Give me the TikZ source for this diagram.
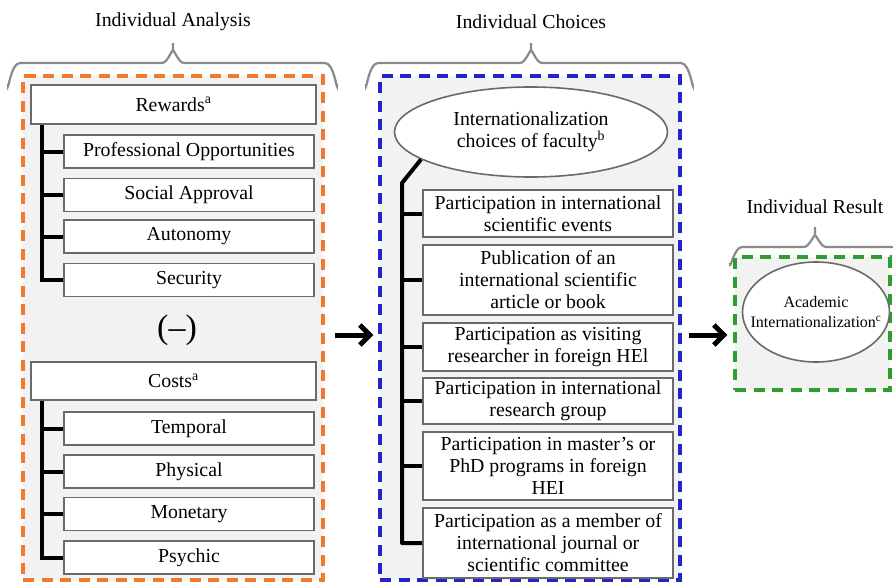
\documentclass[tikz,border=0pt]{standalone}
\usepackage{fontspec}
\setmainfont{Liberation Serif}
\usetikzlibrary{arrows.meta,shapes.geometric}
\definecolor{panelbg}{HTML}{F2F2F2}
\definecolor{boxline}{HTML}{6A6A6A}
\definecolor{braceline}{HTML}{8A8A8A}
\definecolor{orangeD}{HTML}{F07A2A}
\definecolor{blueD}{HTML}{2424C8}
\definecolor{greenD}{HTML}{2E9E2E}
\tikzset{
  panel/.style={draw=#1, fill=panelbg, line width=3.2pt, dash pattern=on 11pt off 7.5pt, inner sep=0pt},
  rbox/.style={draw=boxline, fill=white, line width=1.6pt, inner sep=0pt, align=center,
    font=\fontsize{19.8}{22}\selectfont},
  oval/.style={ellipse, draw=boxline, fill=white, line width=1.6pt, inner sep=0pt},
  lbl/.style={inner sep=0pt, align=center},
  trunk/.style={line width=4pt, black},
  brc/.style={draw=braceline, line width=2.2pt},
  ttl/.style={font=\fontsize{19.8}{22}\selectfont, inner sep=0pt},
  arr/.style={line width=5pt, -{Straight Barb[length=10pt,width=20pt,line width=5pt]}},
}
\begin{document}
\begin{tikzpicture}[x=1pt,y=-1pt]
\useasboundingbox (0,0) rectangle (893,581);
\fill[white] (0,0) rectangle (893,581);

% titles
\node[ttl] (tA) at (173,22) {Individual Analysis};
\node[ttl] (tC) at (531,22) {Individual Choices};
\node[ttl] (tR) at (815,207) {Individual Result};

% braces
\draw[brc] (8,84) to[out=-90,in=180] (20,63) -- (162,63) to[out=0,in=90] (173,52) -- (173,43)
           (173,52) to[out=90,in=180] (184,63) -- (325,63) to[out=0,in=-90] (337,84);
\draw[brc] (366,84) to[out=-90,in=180] (378,63) -- (520,63) to[out=0,in=90] (531,52) -- (531,43)
           (531,52) to[out=90,in=180] (542,63) -- (681,63) to[out=0,in=-90] (693,84);
\draw[brc] (730,263) to[out=-90,in=180] (742,247) -- (804,247) to[out=0,in=90] (815,237) -- (815,227)
           (815,237) to[out=90,in=180] (826,247) -- (900,247);

% panels
\node[panel=orangeD, minimum width=300pt, minimum height=504pt] (lp) at (173,328) {};
\node[panel=blueD, minimum width=300pt, minimum height=504pt] (mp) at (530,328) {};
\node[panel=greenD, minimum width=155pt, minimum height=133pt] (rp) at (812.5,323.5) {};

% left panel boxes
\node[rbox, minimum width=285pt, minimum height=39pt] (rew) at (173.5,104.5) {Rewards\textsuperscript{a}};
\node[rbox, minimum width=250pt, minimum height=33pt] (po) at (189,151.5) {Professional Opportunities};
\node[rbox, minimum width=250pt, minimum height=33pt] (sa) at (189,195) {Social Approval};
\node[rbox, minimum width=250pt, minimum height=33pt] (au) at (189,236.5) {Autonomy};
\node[rbox, minimum width=250pt, minimum height=33pt] (se) at (189,280) {Security};
\node[font=\fontsize{34}{34}\selectfont, inner sep=0pt] (minus) at (177,330) {(\textendash)};
\node[rbox, minimum width=285pt, minimum height=38pt] (cos) at (173.5,381) {Costs\textsuperscript{a}};
\node[rbox, minimum width=250pt, minimum height=33pt] (te) at (189,428.5) {Temporal};
\node[rbox, minimum width=250pt, minimum height=33pt] (ph) at (189,471.5) {Physical};
\node[rbox, minimum width=250pt, minimum height=33pt] (mo) at (189,514) {Monetary};
\node[rbox, minimum width=250pt, minimum height=33pt] (ps) at (189,557.5) {Psychic};

\coordinate (t1) at (42,0);
\draw[trunk] (rew.south -| t1) |- (se.west);
\foreach \b in {po,sa,au} \draw[trunk] (\b.west -| t1) -- (\b.west);
\draw[trunk] (cos.south -| t1) |- (ps.west);
\foreach \b in {te,ph,mo} \draw[trunk] (\b.west -| t1) -- (\b.west);

% middle panel
\node[oval, minimum width=273pt, minimum height=90pt] (ch) at (531,132) {};
\node[lbl, font=\fontsize{19.8}{22}\selectfont] (chl) at (ch.center) {Internationalization\\choices of faculty\textsuperscript{b}};
\node[rbox, minimum width=250pt, minimum height=47pt] (c1) at (548,213.5) {Participation in international\\scientific events};
\node[rbox, minimum width=250pt, minimum height=70pt] (c2) at (548,280) {Publication of an\\international scientific\\article or book};
\node[rbox, minimum width=250pt, minimum height=48pt] (c3) at (548,347) {Participation as visiting\\researcher in foreign HEl};
\node[rbox, minimum width=250pt, minimum height=46pt] (c4) at (548,401) {Participation in international\\research group};
\node[rbox, minimum width=250pt, minimum height=68pt] (c5) at (548,466) {Participation in master’s or\\PhD programs in foreign\\HEI};
\node[rbox, minimum width=250pt, minimum height=70pt] (c6) at (548,543) {Participation as a member of\\international journal or\\scientific committee};

\coordinate (t2) at (402,183);
\draw[trunk, line join=round] (ch.194) -- (t2) |- (c6.west);
\foreach \b in {c1,c2,c3,c4,c5} \draw[trunk] (\b.west -| t2) -- (\b.west);

% right panel
\node[oval, minimum width=147pt, minimum height=100pt] (ai) at (816,312) {};
\node[lbl, font=\fontsize{16}{20}\selectfont] (ail) at (ai.center) {Academic\\Internationalization\textsuperscript{c}};

% arrows
\draw[arr] ([shift={(10,7)}]lp.east) -- ([shift={(-5,7)}]mp.west);
\draw[arr] ([shift={(7,7)}]mp.east) -- ([shift={(-6,11.5)}]rp.west);
\end{tikzpicture}
\end{document}
